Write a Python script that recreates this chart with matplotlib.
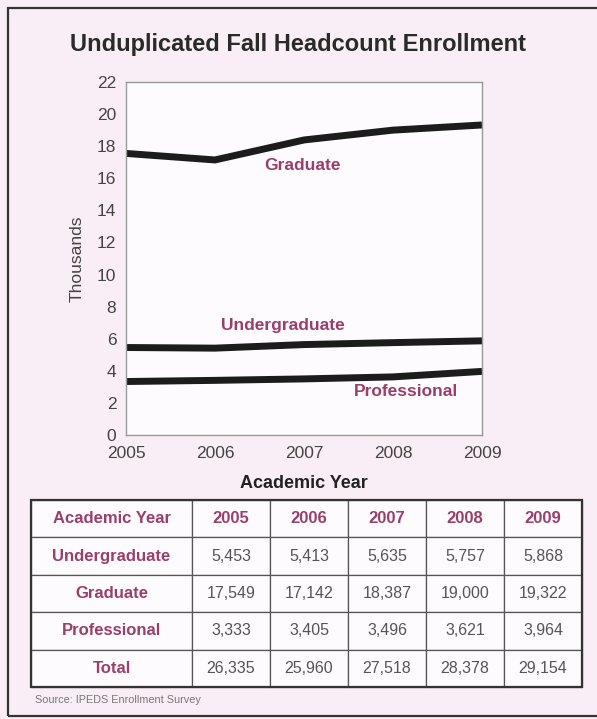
import matplotlib.pyplot as plt
from matplotlib.patches import Rectangle

plt.rcParams["font.family"] = ["Liberation Sans", "DejaVu Sans"]

years = [2005, 2006, 2007, 2008, 2009]
undergrad = [5453, 5413, 5635, 5757, 5868]
graduate = [17549, 17142, 18387, 19000, 19322]
professional = [3333, 3405, 3496, 3621, 3964]
total = [26335, 25960, 27518, 28378, 29154]
row_names = ["Undergraduate", "Graduate", "Professional", "Total"]
y_ticks = [0, 2, 4, 6, 8, 10, 12, 14, 16, 18, 20, 22]

bg = "#f9eef5"
maroon = "#9a3f6a"
grey_text = "#444444"

fig = plt.figure(figsize=(5.97, 7.19), dpi=100, facecolor=bg)

# outer frame
fig.patches.append(Rectangle((8 / 597, 1 - 716 / 719), 1.0, (716 - 8) / 719,
                             transform=fig.transFigure, fill=False,
                             edgecolor="#333333", linewidth=1.6))

fig.text(298 / 597, 1 - 45 / 719, "Unduplicated Fall Headcount Enrollment",
         ha="center", va="center", fontsize=17, fontweight="bold", color="#2a2a2a")

ax = fig.add_axes([126 / 597, 1 - 435 / 719, 356 / 597, 353 / 719])
ax.set_facecolor("#fdfbfd")
for s in ax.spines.values():
    s.set_color("#999999")
    s.set_linewidth(1.0)

for series in (graduate, undergrad, professional):
    ax.plot(years, [v / 1000 for v in series], color="#1c1c1c", linewidth=5,
            solid_capstyle="butt", solid_joinstyle="miter")

ax.set_xlim(2005, 2009)
ax.set_ylim(0, 22)
ax.set_xticks(years)
ax.set_yticks(y_ticks)
ax.tick_params(length=0, labelsize=12.5, labelcolor=grey_text)
ax.tick_params(axis="x", pad=8)
ax.tick_params(axis="y", pad=7)
ax.set_ylabel("Thousands", fontsize=12.5, color=grey_text, labelpad=9)
ax.set_xlabel("Academic Year", fontsize=13, fontweight="bold", color="#222222", labelpad=10)

ax.text(2006.98, 16.8, "Graduate", ha="center", va="center", fontsize=12.5,
        fontweight="bold", color=maroon)
ax.text(2006.76, 6.8, "Undergraduate", ha="center", va="center", fontsize=12.5,
        fontweight="bold", color=maroon)
ax.text(2008.15, 2.7, "Professional", ha="center", va="center", fontsize=12.5,
        fontweight="bold", color=maroon)

# data table
tax = fig.add_axes([31 / 597, 1 - 687 / 719, 551 / 597, 187 / 719])
tax.axis("off")
cells = [[f"{v:,}" for v in row] for row in (undergrad, graduate, professional, total)]
cell_text = [["Academic Year"] + [str(y) for y in years]]
for name, row in zip(row_names, cells):
    cell_text.append([name] + row)
first_w = 161 / 551
other_w = (1 - first_w) / 5
tbl = tax.table(cellText=cell_text, cellLoc="center", bbox=[0, 0, 1, 1],
                colWidths=[first_w] + [other_w] * 5)
tbl.auto_set_font_size(False)
for (r, c), cell in tbl.get_celld().items():
    cell.set_edgecolor("#555555")
    cell.set_linewidth(0.9)
    cell.set_facecolor("#fdfbfd")
    txt = cell.get_text()
    if r == 0 or c == 0:
        txt.set_color(maroon)
        txt.set_fontweight("bold")
        txt.set_fontsize(12)
    else:
        txt.set_color("#555555")
        txt.set_fontsize(11.5)
tax.add_patch(Rectangle((0, 0), 1, 1, transform=tax.transAxes, fill=False,
                        edgecolor="#333333", linewidth=1.6, clip_on=False))

fig.text(35 / 597, 1 - 700 / 719, "Source: IPEDS Enrollment Survey", ha="left",
         va="center", fontsize=7.8, color="#777777",
         family=["Liberation Sans Narrow", "Liberation Sans", "DejaVu Sans"])

fig.savefig("out.png", dpi=100, facecolor=bg)
